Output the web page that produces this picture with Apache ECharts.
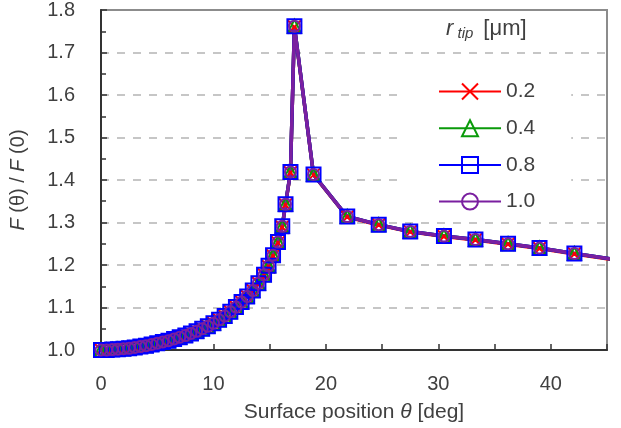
<!DOCTYPE html>
<html>
<head>
<meta charset="utf-8">
<script src="https://cdn.jsdelivr.net/npm/echarts@6/dist/echarts.min.js"></script>
<style>
  html, body { margin: 0; padding: 0; background: #fff; }
  #chart { width: 621px; height: 428px; }
</style>
</head>
<body>
<div id="chart"></div>
<script>
// surface position theta [deg]
const thetaDeg = [0, 0.5, 1, 1.5, 2, 2.5, 3, 3.5, 4, 4.5, 5, 5.5, 6, 6.5, 7, 7.5, 8, 8.5, 9, 9.5,
  10, 10.5, 11, 11.5, 12, 12.5, 13, 13.5, 14, 14.5, 14.9, 15.3, 15.74, 16.12, 16.41, 16.85, 17.2,
  18.9, 21.9, 24.7, 27.5, 30.5, 33.3, 36.2, 39.0, 42.1, 47.0];

// F(theta) / F(0) for each tip radius
const ratio02 = [1.000, 1.000, 1.001, 1.002, 1.003, 1.004, 1.006, 1.008, 1.010, 1.013, 1.016, 1.019, 1.022, 1.026, 1.030, 1.034,
  1.039, 1.044, 1.050, 1.056, 1.063, 1.071, 1.080, 1.090, 1.101, 1.113, 1.126, 1.140, 1.157, 1.177, 1.196, 1.221, 1.252, 1.289,
  1.341, 1.417, 1.760, 1.412, 1.313, 1.294, 1.278, 1.267, 1.259, 1.249, 1.239, 1.226, 1.207];
const ratio04 = [1.000, 1.000, 1.001, 1.002, 1.003, 1.004, 1.006, 1.008, 1.010, 1.013, 1.016, 1.019, 1.022, 1.026, 1.030, 1.034,
  1.039, 1.044, 1.050, 1.056, 1.063, 1.071, 1.080, 1.090, 1.101, 1.113, 1.126, 1.140, 1.157, 1.177, 1.198, 1.223, 1.254, 1.291,
  1.343, 1.419, 1.762, 1.413, 1.314, 1.295, 1.279, 1.268, 1.260, 1.250, 1.240, 1.227, 1.208];
const ratio08 = [1.000, 1.000, 1.001, 1.002, 1.003, 1.004, 1.006, 1.008, 1.010, 1.013, 1.016, 1.019, 1.022, 1.026, 1.030, 1.034,
  1.039, 1.044, 1.050, 1.056, 1.063, 1.071, 1.080, 1.090, 1.101, 1.113, 1.126, 1.140, 1.157, 1.177, 1.198, 1.223, 1.254, 1.291,
  1.343, 1.419, 1.762, 1.413, 1.314, 1.295, 1.279, 1.268, 1.260, 1.250, 1.240, 1.227, 1.208];
const ratio10 = [1.000, 1.000, 1.001, 1.002, 1.003, 1.004, 1.006, 1.008, 1.010, 1.013, 1.016, 1.019, 1.022, 1.026, 1.030, 1.034,
  1.039, 1.044, 1.050, 1.056, 1.063, 1.071, 1.080, 1.090, 1.101, 1.113, 1.126, 1.140, 1.157, 1.177, 1.198, 1.223, 1.254, 1.291,
  1.343, 1.419, 1.762, 1.413, 1.314, 1.295, 1.279, 1.268, 1.260, 1.250, 1.240, 1.227, 1.208];

const radiusNames = ["0.2", "0.4", "0.8", "1.0"];

const chart = echarts.init(document.getElementById("chart"));

const font = "'Liberation Sans', Arial, sans-serif";
const txt = "#404040";

const pairs = (ys) => thetaDeg.map((x, i) => [x, ys[i]]);

const mkSeries = (name, ys, color, symbol, size) => ({
  name: name,
  type: "line",
  data: pairs(ys),
  symbol: symbol,
  symbolSize: size,
  clip: true,
  lineStyle: { color: color, width: 3.5 },
  itemStyle: { color: "rgba(0,0,0,0)", borderColor: color, borderWidth: 2 },
  emphasis: { disabled: true },
});

chart.setOption({
  animation: false,
  textStyle: { fontFamily: font },
  grid: {
    left: 96, right: 14, top: 10, bottom: 75,
    show: true, borderColor: "#8c8c8c", borderWidth: 2,
  },
  title: {
    text: "{r|r}{s| tip}  {b|[}{m|\u03bc}{b|m]}",
    left: 441, top: 12,
    textStyle: {
      fontWeight: "normal",
      rich: {
        r: { fontSize: 22, fontStyle: "italic", fontWeight: "normal", color: txt, fontFamily: font },
        s: { fontSize: 15, fontStyle: "italic", fontWeight: "normal", color: txt, fontFamily: font, padding: [9, 0, 0, 0] },
        b: { fontSize: 22, fontWeight: "normal", color: txt, fontFamily: font },
        m: { fontSize: 22, fontWeight: "normal", color: txt, fontFamily: font },
      },
    },
  },
  legend: {
    orient: "vertical",
    left: 400, top: 65,
    padding: [16, 36, 8, 38],
    backgroundColor: "#fff",
    itemWidth: 62, itemHeight: 20, itemGap: 15.7,
    lineStyle: { width: 2 },
    textStyle: { fontSize: 21, color: txt, fontFamily: font },
    data: radiusNames,
  },
  xAxis: {
    type: "value",
    min: 0, max: 45, interval: 10,
    name: "Surface position {i|\u03b8} [deg]",
    nameLocation: "middle", nameGap: 52,
    nameTextStyle: {
      fontSize: 21, color: txt, fontFamily: font,
      rich: { i: { fontSize: 21, fontStyle: "italic", color: txt, fontFamily: font } },
    },
    axisLine: { lineStyle: { color: "#333", width: 2 } },
    axisTick: { inside: true, length: 6, lineStyle: { color: "#333", width: 1.5 } },
    minorTick: { show: true, splitNumber: 2, length: 6, lineStyle: { color: "#333", width: 1.5 } },
    axisLabel: { fontSize: 20, color: txt, margin: 24, fontFamily: font, showMaxLabel: false },
    splitLine: { show: false },
  },
  yAxis: {
    type: "value",
    min: 1.0, max: 1.8, interval: 0.1,
    name: "{i|F} (\u03b8) / {i|F} (0)",
    nameLocation: "middle", nameGap: 73,
    nameTextStyle: {
      fontSize: 20, color: txt, fontFamily: font,
      rich: { i: { fontSize: 20, fontStyle: "italic", color: txt, fontFamily: font } },
    },
    axisLine: { show: true, lineStyle: { color: "#333", width: 2 } },
    axisTick: { show: true, inside: true, length: 6, lineStyle: { color: "#333", width: 1.5 } },
    minorTick: { show: true, splitNumber: 2, length: 5, lineStyle: { color: "#333", width: 1.5 } },
    axisLabel: { fontSize: 20, color: txt, margin: 26, fontFamily: font, formatter: (v) => v.toFixed(1) },
    splitLine: {
      show: true, showMinLine: false, showMaxLine: false,
      lineStyle: { color: "#b4b4b4", type: [8, 8], width: 1.5 },
    },
  },
  series: [
    mkSeries(radiusNames[0], ratio02, "#ff0000", "path://M0,0L10,10M10,0L0,10", 13),
    mkSeries(radiusNames[1], ratio04, "#0a9a0a", "triangle", 13),
    mkSeries(radiusNames[2], ratio08, "#0000ff", "rect", 14),
    mkSeries(radiusNames[3], ratio10, "#7a1fa0", "circle", 11),
  ],
});
</script>
</body>
</html>
